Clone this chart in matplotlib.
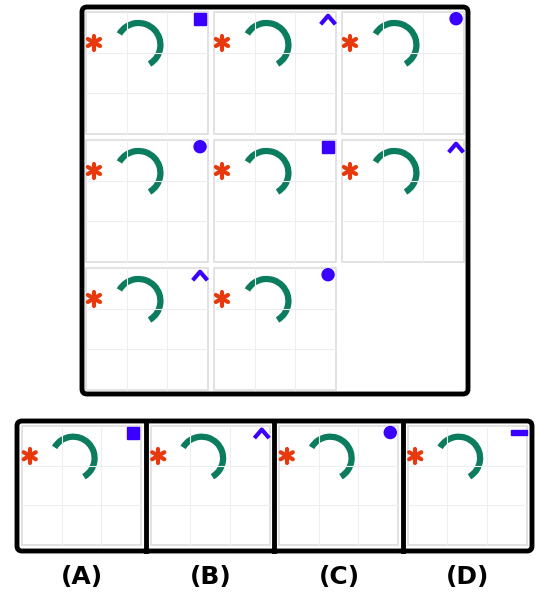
import numpy as np
import matplotlib.pyplot as plt
from matplotlib.patches import FancyBboxPatch, Rectangle, Circle, Arc

# corner symbol in each grid cell (None = empty)
grid_shapes = ["square", "chevron", "circle",
               "circle", "square", "chevron",
               "chevron", "circle", None]
option_shapes = ["square", "chevron", "circle", "dash"]
option_labels = ["(A)", "(B)", "(C)", "(D)"]

RED = "#e8380d"
GREEN = "#0b7d5e"
BLUE = "#3a00ff"

fig = plt.figure(figsize=(5.5, 6), dpi=100)
ax = fig.add_axes([0, 0, 1, 1])
ax.set_xlim(0, 550)
ax.set_ylim(600, 0)
ax.axis("off")


def draw_cell(x, y, s, shape):
    ax.add_patch(Rectangle((x, y), s, s, fc="white", ec="#dddddd", lw=1.2))
    for f in (1 / 3, 2 / 3):
        ax.plot([x + f * s, x + f * s], [y, y + s], color="#eeeeee", lw=0.8)
        ax.plot([x, x + s], [y + f * s, y + f * s], color="#eeeeee", lw=0.8)
    # asterisk
    ax0, ay0 = x + 0.065 * s, y + 0.25 * s
    for a in (90, 30, -30):
        dx, dy = 7 * np.cos(np.radians(a)), 7 * np.sin(np.radians(a))
        ax.plot([ax0 - dx, ax0 + dx], [ay0 - dy, ay0 + dy], color=RED,
                lw=3, solid_capstyle="round")
    # arc (y axis inverted, so angles are mirrored)
    ax.add_patch(Arc((x + 0.43 * s, y + 0.27 * s), 0.36 * s, 0.36 * s,
                     theta1=-150, theta2=60, color=GREEN, lw=4.5))
    cx, cy = x + 0.935 * s, y + 0.055 * s
    if shape == "square":
        ax.add_patch(Rectangle((cx - 6, cy - 6), 12, 12, color=BLUE))
    elif shape == "circle":
        ax.add_patch(Circle((cx, cy), 6, color=BLUE))
    elif shape == "chevron":
        ax.plot([cx - 6, cx, cx + 6], [cy + 4, cy - 3, cy + 4], color=BLUE,
                lw=3)
    elif shape == "dash":
        ax.add_patch(Rectangle((cx - 8, cy - 2.5), 16, 5, color=BLUE))


ax.add_patch(FancyBboxPatch((82, 7), 386, 387, boxstyle="round,pad=0,rounding_size=5",
                            fc="white", ec="black", lw=3.5))
for i, shape in enumerate(grid_shapes):
    if shape is None:
        continue
    r, c = divmod(i, 3)
    draw_cell(86 + c * 128, 12 + r * 128, 122, shape)

ax.add_patch(FancyBboxPatch((17, 421), 515, 130, boxstyle="round,pad=0,rounding_size=5",
                            fc="white", ec="black", lw=3.5))
for k, shape in enumerate(option_shapes):
    x0 = 17 + k * 128.5
    if k > 0:
        ax.plot([x0, x0], [421, 551], color="black", lw=3.5)
    draw_cell(x0 + 5, 426, 119, shape)
    ax.text(x0 + 65, 577, option_labels[k], fontsize=18, ha="center",
            va="center", fontweight="semibold")

fig.savefig("out.png")
